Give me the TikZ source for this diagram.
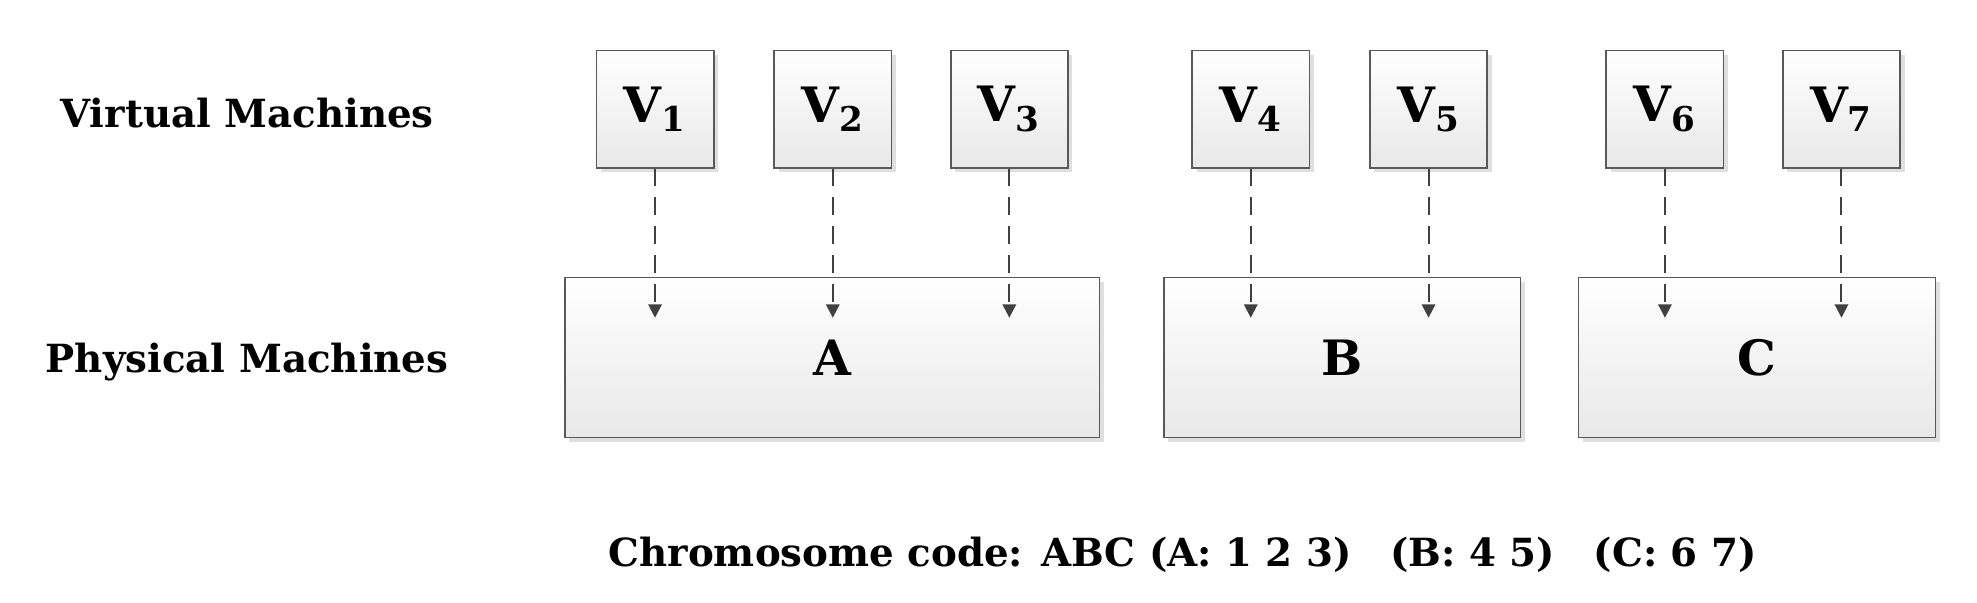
\documentclass[tikz,border=0pt]{standalone}
\usepackage{fontspec}
\setmainfont{DejaVu Serif}
\usetikzlibrary{shadows,arrows.meta}
\begin{document}
\begin{tikzpicture}[x=0.02cm,y=-0.02cm,
 box/.style={draw=gray!70!black,line width=0.8pt,top color=white,bottom color=gray!18,drop shadow={shadow xshift=2pt,shadow yshift=-2pt,opacity=0.25},inner sep=0pt},
 vm/.style={box,minimum width=93*0.02cm,minimum height=93*0.02cm,font=\fontsize{22}{26}\selectfont\bfseries},
 pm/.style={box,minimum height=127*0.02cm,font=\fontsize{22}{26}\selectfont\bfseries},
 lab/.style={font=\fontsize{17.5}{21}\selectfont\bfseries},
 arr/.style={draw=gray!50!black,line width=0.9pt,dash pattern=on 8pt off 5pt,-{Triangle[length=6pt,width=6pt]}}]
\useasboundingbox (0,0) rectangle (1568,478);
\node[lab] (lv) at (196,90) {Virtual Machines};
\node[lab] (lp) at (196,287) {Physical Machines};
\node[pm,minimum width=424*0.02cm] (A) at (660,283.5) {A};
\node[pm,minimum width=283*0.02cm] (B) at (1064.5,283.5) {B};
\node[pm,minimum width=283*0.02cm] (C) at (1393.5,283.5) {C};
\foreach \n/\x in {1/519.5,2/660.5,3/800.5,4/992,5/1133,6/1320.5,7/1460.5}{
 \node[vm] (v\n) at (\x,86.5) {V\textsubscript{\n}};
 \coordinate (t\n) at (\x,252);
 \draw[arr] (v\n.south) -- (t\n);
}
\node[lab] (code) at (938,440) {Chromosome code: ABC (A: 1 2 3)\quad (B: 4 5)\quad (C: 6 7)};
\end{tikzpicture}
\end{document}
